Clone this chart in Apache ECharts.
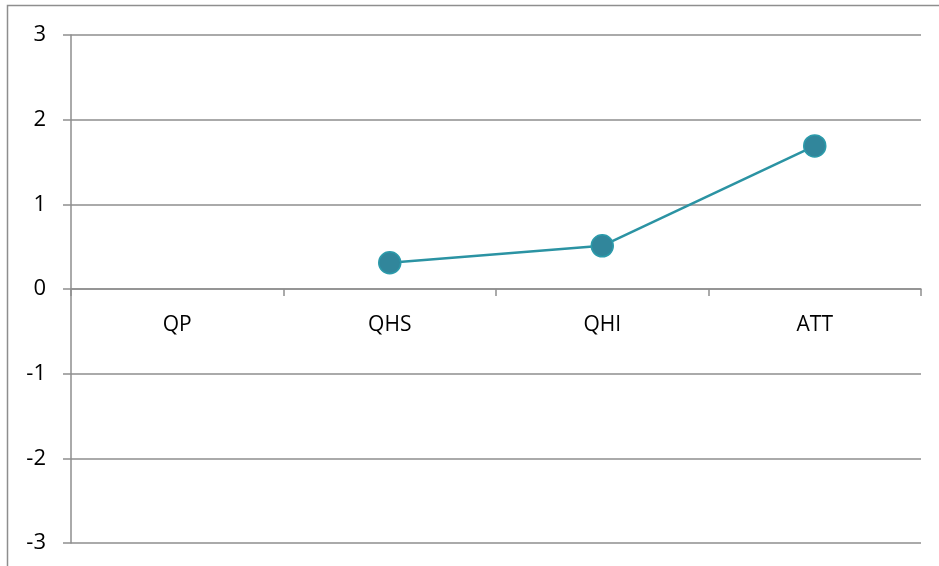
<!DOCTYPE html>
<html><head><meta charset="utf-8">
<script src="https://cdn.jsdelivr.net/npm/echarts@6/dist/echarts.min.js"></script>
<style>html,body{margin:0;padding:0;background:#fff}#c{width:939px;height:566px}</style>
</head><body><div id="c"></div>
<script>
const categories = ['QP', 'QHS', 'QHI', 'ATT'];
const values = [null, 0.31, 0.51, 1.69];
const yTicks = [-3, -2, -1, 0, 1, 2, 3];

const chart = echarts.init(document.getElementById('c'), null, {renderer: 'canvas'});
const gridColor = '#8e8e8e';
const font = 'Open Sans, Liberation Sans, sans-serif';
chart.setOption({
  animation: false,
  grid: {left: 71, right: 18, top: 35, bottom: 23, containLabel: false, outerBoundsMode: 'none'},
  graphic: [{
    type: 'rect', shape: {x: 7.5, y: 5.5, width: 1200, height: 1200},
    style: {fill: 'none', stroke: '#8e8e8e', lineWidth: 1.5}, silent: true, z: -1
  }],
  xAxis: {
    type: 'category', data: categories, boundaryGap: true, position: 'bottom',
    offset: -254,
    axisLine: {onZero: false, lineStyle: {color: gridColor, width: 1.5}},
    axisTick: {show: true, alignWithLabel: false, length: 7, inside: false, lineStyle: {color: gridColor, width: 1.5}},
    axisLabel: {color: '#000', fontSize: 21, fontFamily: font, margin: 26},
    splitLine: {show: false}
  },
  yAxis: {
    type: 'value', min: -3, max: 3, interval: 1,
    axisLine: {show: true, lineStyle: {color: gridColor, width: 1.5}},
    axisTick: {show: true, length: 8, lineStyle: {color: gridColor, width: 1.5}},
    axisLabel: {color: '#000', fontSize: 22, fontFamily: font, margin: 25,
      formatter: v => yTicks.includes(v) ? String(v) : ''},
    splitLine: {show: true, lineStyle: {color: gridColor, width: 1.5}}
  },
  series: [{
    type: 'line', data: values, connectNulls: false,
    symbol: 'circle', symbolSize: 22,
    lineStyle: {color: '#2b93a3', width: 2.5},
    itemStyle: {color: '#31869b', borderColor: '#2c9bab', borderWidth: 1.5}
  }]
});
</script></body></html>
